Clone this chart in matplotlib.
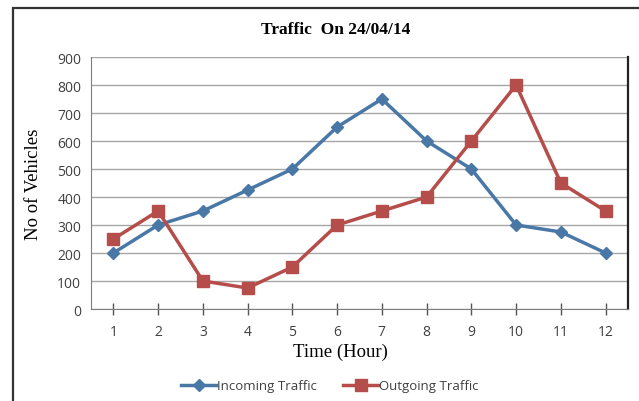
import matplotlib
matplotlib.use("Agg")
import matplotlib.pyplot as plt
from matplotlib.patches import Rectangle

hours = [1, 2, 3, 4, 5, 6, 7, 8, 9, 10, 11, 12]
incoming = [200, 300, 350, 425, 500, 650, 750, 600, 500, 300, 275, 200]
outgoing = [250, 350, 100, 75, 150, 300, 350, 400, 600, 800, 450, 350]
yticks = [0, 100, 200, 300, 400, 500, 600, 700, 800, 900]

W, H = 639, 402
fig = plt.figure(figsize=(W / 100, H / 100), dpi=100)
fig.patch.set_facecolor("white")

# outer chart frame (cropped at right/bottom)
fig.patches.append(Rectangle((13 / W, -0.05), 1.2, (H - 9) / H + 0.05,
                             transform=fig.transFigure, fill=False,
                             edgecolor="#333333", linewidth=1.6))

ax = fig.add_axes([91 / W, 1 - 310 / H, (628 - 91) / W, (310 - 58) / H])
ax.set_xlim(0.5, 12.5)
ax.set_ylim(0, 900)
ax.set_yticks(yticks)
ax.set_xticks(hours)
ax.yaxis.grid(True, color="#a6a6a6", linewidth=1.0)
ax.set_axisbelow(True)

ax.spines["top"].set_visible(False)
ax.spines["left"].set_color("#7f7f7f")
ax.spines["bottom"].set_color("#7f7f7f")
ax.spines["right"].set_color("#222222")
ax.spines["right"].set_linewidth(1.6)

ax.tick_params(axis="y", length=0, pad=7, labelsize=10, labelcolor="#404040")
ax.tick_params(axis="x", direction="inout", length=8, width=1, color="#555555",
               pad=7, labelsize=10, labelcolor="#404040")
for lab in ax.get_xticklabels() + ax.get_yticklabels():
    lab.set_family("Open Sans")

ax.plot(hours, incoming, color="#4a78a6", linewidth=2.5, marker="D",
        markersize=6, label="Incoming Traffic", clip_on=False)
ax.plot(hours, outgoing, color="#b54e4a", linewidth=2.5, marker="s",
        markersize=8.5, label="Outgoing Traffic", clip_on=False)

fig.text(336 / W, 1 - 30 / H, "Traffic  On 24/04/14", ha="center", va="center",
         family="Liberation Serif", fontweight="bold", fontsize=12.5)
fig.text(33 / W, 1 - 184 / H, "No of Vehicles", ha="center", va="center",
         rotation=90, family="Liberation Serif", fontsize=13.5)
fig.text(340 / W, 1 - 352 / H, "Time (Hour)", ha="center", va="center",
         family="Liberation Serif", fontsize=13.5)

leg = fig.legend(loc="center", bbox_to_anchor=(330 / W, 1 - 387 / H), ncol=2,
                 frameon=False, prop={"family": "Open Sans", "size": 9.5},
                 handlelength=2.6, columnspacing=2.0, handletextpad=0.1)
for t in leg.get_texts():
    t.set_color("#404040")

fig.savefig("out.png", dpi=100)
